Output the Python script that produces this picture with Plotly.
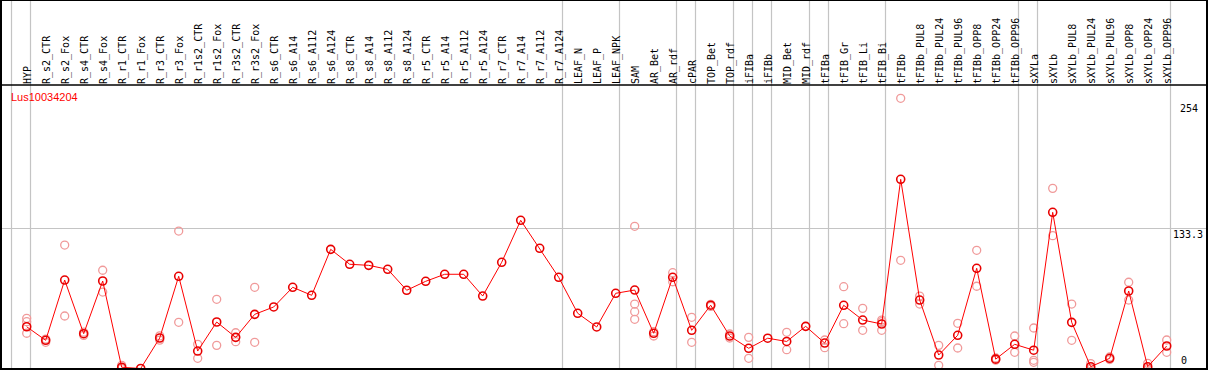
import plotly.graph_objects as go

# ---------------- data ----------------
categories = [
    "HYP", "R_s2_CTR", "R_s2_Fox", "R_s4_CTR", "R_s4_Fox", "R_r1_CTR", "R_r1_Fox",
    "R_r3_CTR", "R_r3_Fox", "R_r1s2_CTR", "R_r1s2_Fox", "R_r3s2_CTR", "R_r3s2_Fox",
    "R_s6_CTR", "R_s6_A14", "R_s6_A112", "R_s6_A124", "R_s8_CTR", "R_s8_A14",
    "R_s8_A112", "R_s8_A124", "R_r5_CTR", "R_r5_A14", "R_r5_A112", "R_r5_A124",
    "R_r7_CTR", "R_r7_A14", "R_r7_A112", "R_r7_A124", "LEAF_N", "LEAF_P", "LEAF_NPK",
    "SAM", "AR_Bet", "AR_rdf", "cPAR", "TOP_Bet", "TOP_rdf", "iFIBa", "iFIBb",
    "MID_Bet", "MID_rdf", "tFIBa", "tFIB_Gr", "tFIB_Li", "tFIB_Bi", "tFIBb",
    "tFIBb_PUL8", "tFIBb_PUL24", "tFIBb_PUL96", "tFIBb_OPP8", "tFIBb_OPP24",
    "tFIBb_OPP96", "sXYLa", "sXYLb", "sXYLb_PUL8", "sXYLb_PUL24", "sXYLb_PUL96",
    "sXYLb_OPP8", "sXYLb_OPP24", "sXYLb_OPP96",
]

means = [
    39.7, 26.8, 84.1, 33.1, 83.2, 1.2, 0.0, 29.0, 87.7, 16.6, 44.2, 29.6, 51.5,
    58.5, 77.2, 69.6, 113.3, 99.1, 98.1, 94.3, 74.4, 82.9, 89.6, 89.6, 68.9,
    101.0, 140.9, 114.3, 86.7, 52.5, 39.5, 71.5, 74.6, 33.5, 86.7, 36.3, 60.2,
    30.9, 19.2, 28.8, 25.7, 40.1, 24.2, 60.1, 46.1, 42.3, 179.9, 65.1, 12.8,
    31.6, 95.3, 8.9, 23.0, 17.4, 148.5, 43.9, 1.7, 9.7, 73.7, 1.7, 21.4,
]

replicates = [
    [47.7, 44.5, 33.5], [28.0, 24.9], [117.4, 49.9], [34.5, 31.5], [93.4, 72.7],
    [3.0, 0.0], [], [31.0, 27.0], [130.7, 43.9], [23.0, 9.7], [65.8, 22.0],
    [34.0, 25.5], [77.2, 24.9], [], [], [], [], [], [], [], [], [], [], [], [],
    [], [], [], [], [], [], [], [135.2, 61.3, 54.0, 46.8], [30.9, 35.0],
    [91.1, 82.5], [48.7, 24.9], [61.0, 59.0], [32.8, 29.0], [29.6, 9.7], [],
    [34.4, 17.9], [], [27.1, 19.8], [77.8, 42.6], [57.2, 36.3], [44.5, 36.3, 46.0],
    [256.9, 102.9], [68.9, 61.3], [22.0, 3.0], [43.0, 19.5], [112.4, 78.2],
    [10.0, 8.0], [30.9, 15.4], [38.5, 7.8, 5.9], [171.3, 126.3], [61.3, 26.8],
    [4.6, 0.0], [11.0, 8.5], [82.0, 65.1], [4.9, 0.0], [27.1, 15.4],
]

# index of the last category of each tissue group (-1 = left boundary)
group_ends = [-1, 0, 28, 31, 34, 35, 37, 38, 39, 41, 42, 45, 52, 53, 60]

gene_name = "Lus10034204"
value_labels = ["254", "133.3", "0"]
value_label_vals = [254, 133.3, 0]
grid_value = 133.3

# ---------------- layout geometry ----------------
W, H = 1209, 370
ML, MR, MT, MB = 1, 2, 85, 1
PW = W - ML - MR
PH = H - MT - MB
px_per_cat = 19.0
first_px = 25.7              # px from plot left to first category
px_per_unit = 1.0517
zero_px_from_bottom = 0.5

xmin = -first_px / px_per_cat
xmax = xmin + PW / px_per_cat
ymin = -zero_px_from_bottom / px_per_unit
ymax = ymin + PH / px_per_unit
label_shift = -1.0 / px_per_cat
top_paper = 1 + MT / PH

idx = list(range(len(categories)))

rep_x, rep_y = [], []
for i, reps in enumerate(replicates):
    for v in reps:
        rep_x.append(i)
        rep_y.append(v)

fig = go.Figure()

fig.add_trace(go.Scatter(
    x=rep_x, y=rep_y, mode="markers",
    marker=dict(symbol="circle-open", size=8, color="#f09a9a",
                line=dict(width=1.3, color="#f09a9a")),
    hoverinfo="skip", showlegend=False,
))

fig.add_trace(go.Scatter(
    x=idx, y=means, mode="lines+markers",
    line=dict(color="#ff0000", width=1),
    marker=dict(symbol="circle-open", size=8, color="#e80000",
                line=dict(width=1.6, color="#e80000")),
    showlegend=False,
))

# invisible trace carrying the category-label axis
fig.add_trace(go.Scatter(
    x=[idx[0]], y=[means[0]], xaxis="x2", mode="markers",
    marker=dict(opacity=0), hoverinfo="skip", showlegend=False,
))

shapes = []
for g in group_ends:
    shapes.append(dict(type="line", xref="x", yref="paper",
                       x0=g + 0.2, x1=g + 0.2, y0=0, y1=top_paper,
                       line=dict(color="#c4c4c4", width=1.2), layer="below"))
# header separator
shapes.append(dict(type="line", xref="paper", yref="paper", x0=0, x1=1,
                   y0=1, y1=1, line=dict(color="black", width=1.6)))
# frame
shapes.append(dict(type="rect", xref="paper", yref="paper", x0=0, x1=1,
                   y0=0, y1=top_paper, line=dict(color="black", width=2)))

annotations = [dict(
    text=gene_name, xref="paper", yref="paper",
    x=(9.0 - ML) / PW, y=(H - MB - 96.7) / PH, xanchor="left", yanchor="middle",
    showarrow=False, font=dict(family="Liberation Sans", size=11, color="#ff0000"),
)]
label_left_px = [1178, 1171, 1179]
label_anchor = ["top", "top", "bottom"]
label_yshift = [0, 1, 1]
for t, v, lx, a, ys in zip(value_labels, value_label_vals, label_left_px, label_anchor, label_yshift):
    annotations.append(dict(
        text=t, xref="paper", yref="y", x=(lx - ML) / PW, y=v, yshift=ys,
        xanchor="left", yanchor=a, showarrow=False,
        font=dict(family="DejaVu Sans Mono", size=10, color="black"),
    ))

fig.update_layout(
    width=W, height=H,
    margin=dict(l=ML, r=MR, t=MT, b=MB, pad=0),
    paper_bgcolor="white", plot_bgcolor="white",
    xaxis=dict(range=[xmin, xmax], showgrid=False, zeroline=False,
               showticklabels=False, showline=False, ticks=""),
    xaxis2=dict(range=[xmin + label_shift, xmax + label_shift], overlaying="x",
                side="top", tickmode="array", tickvals=idx, ticktext=categories,
                tickangle=-90, ticks="", showgrid=False, zeroline=False,
                showline=False, ticklabelstandoff=0,
                tickfont=dict(family="DejaVu Sans Mono", size=10, color="black")),
    yaxis=dict(range=[ymin, ymax], tickmode="array", tickvals=[grid_value],
               showgrid=True, gridcolor="#c4c4c4", gridwidth=1.2,
               showticklabels=False, zeroline=False, showline=False, ticks=""),
    shapes=shapes,
    annotations=annotations,
)

fig.write_html(
    "out.html",
    config={"displayModeBar": False},
    post_script="document.body.style.margin='0';document.body.style.overflow='hidden';",
)
